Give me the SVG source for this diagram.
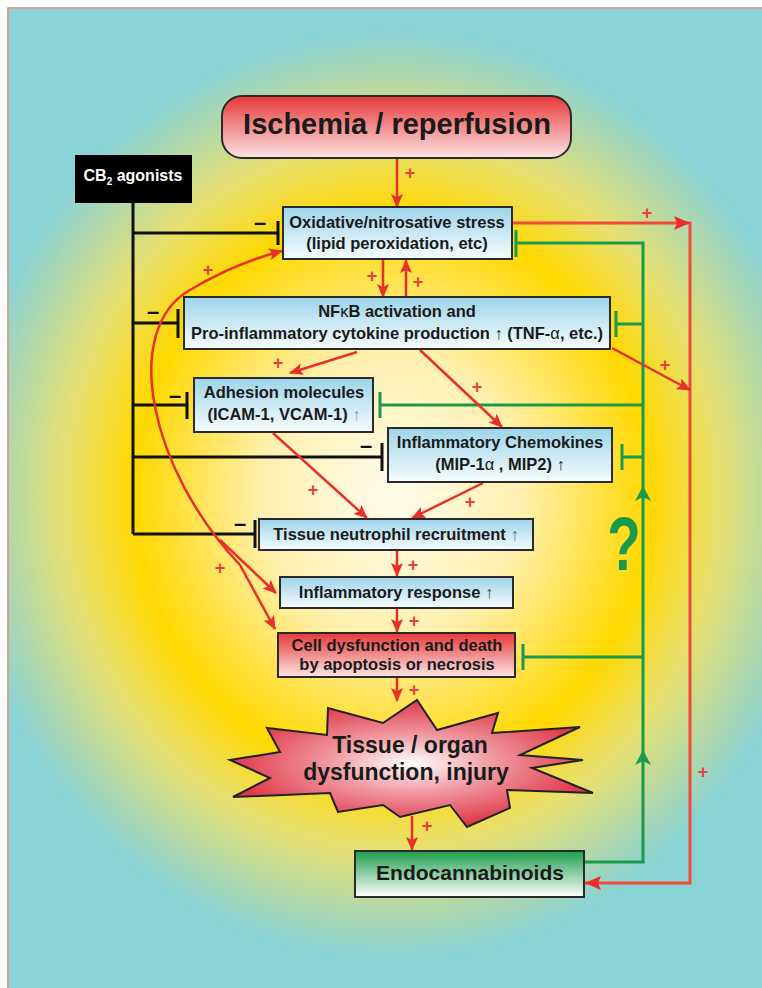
<svg xmlns="http://www.w3.org/2000/svg" width="762" height="988" viewBox="0 0 762 988">
<defs>
<radialGradient id="bg" gradientUnits="userSpaceOnUse" cx="392" cy="495" r="430" gradientTransform="translate(392 495) scale(1 1.08) translate(-392 -495)">
<stop offset="0" stop-color="#fffcee"/>
<stop offset="0.3" stop-color="#fff0b0"/>
<stop offset="0.6" stop-color="#ffd800"/>
<stop offset="0.76" stop-color="#e8e070"/>
<stop offset="0.9" stop-color="#b0d8ac"/>
<stop offset="1" stop-color="#89d2d5"/>
</radialGradient>
<linearGradient id="blue" x1="0" y1="0" x2="0" y2="1">
<stop offset="0" stop-color="#9dd4ea"/>
<stop offset="1" stop-color="#f6fcfd"/>
</linearGradient>
<linearGradient id="red" x1="0" y1="0" x2="0" y2="1">
<stop offset="0" stop-color="#e63838"/>
<stop offset="1" stop-color="#fde4e4"/>
</linearGradient>
<linearGradient id="green" x1="0" y1="0" x2="0" y2="1">
<stop offset="0" stop-color="#1e9e4c"/>
<stop offset="1" stop-color="#ffffff"/>
</linearGradient>
<radialGradient id="star" cx="0.5" cy="0.5" r="0.5">
<stop offset="0" stop-color="#ffffff"/>
<stop offset="0.45" stop-color="#f09aa2"/>
<stop offset="1" stop-color="#e03848"/>
</radialGradient>
<marker id="ar" markerUnits="userSpaceOnUse" markerWidth="14" markerHeight="12" refX="13" refY="6" orient="auto">
<path d="M0,0 L14,6 L0,12 L3,6 Z" fill="#e8302a"/>
</marker>
<style>
.box{stroke:#2a2a2a;stroke-width:2}
.t{font-family:"Liberation Sans",Arial,sans-serif;font-weight:bold;fill:#1a1a1a;text-anchor:middle}
.bx{font-size:16.5px}
.up{font-weight:normal;fill:#555}
.r{stroke:#e8302a;stroke-width:2.5;fill:none}
.rm{marker-end:url(#ar)}
.g{stroke:#1a9a4a;stroke-width:3;fill:none}
.k{stroke:#111;stroke-width:3;fill:none}
.p{font-family:"Liberation Sans",Arial,sans-serif;font-weight:bold;font-size:18px;fill:#e84040;text-anchor:middle}
.m{font-family:"Liberation Sans",Arial,sans-serif;font-weight:bold;font-size:22px;fill:#111;text-anchor:middle}
</style>
</defs>
<rect x="0" y="0" width="762" height="988" fill="#ffffff"/>
<rect x="8" y="8" width="760" height="990" fill="url(#bg)" stroke="#d8a090" stroke-width="2"/>

<g id="connectors">
<!-- black inhibitions -->
<path class="k" d="M133,203 V534"/>
<path class="k" d="M133,233 H278 M278,221 V245"/>
<path class="k" d="M133,323 H178 M178,309 V338"/>
<path class="k" d="M133,405 H187 M187,392 V419"/>
<path class="k" d="M133,457 H382 M382,443 V471"/>
<path class="k" d="M133,534 H255 M255,520 V548"/>
<text class="m" x="260" y="230">–</text>
<text class="m" x="153" y="319">–</text>
<text class="m" x="175" y="403">–</text>
<text class="m" x="366" y="453">–</text>
<text class="m" x="240" y="531">–</text>
<!-- green inhibitions -->
<path class="g" d="M584,862 H643 V243 H516 M516,230 V257"/>
<path class="g" d="M643,324 H616 M616,311 V337"/>
<path class="g" d="M643,405 H380 M380,392 V418"/>
<path class="g" d="M643,457 H622 M622,444 V470"/>
<path class="g" d="M643,657 H523 M523,644 V670"/>
<path d="M643,486 L651,501 L643,497 L635,501 Z" fill="#1a9a4a"/>
<path d="M643,750 L651,765 L643,761 L635,765 Z" fill="#1a9a4a"/>
<text transform="translate(624,570) scale(0.72,1)" font-family="Liberation Sans, Arial, sans-serif" font-weight="bold" font-size="76" fill="#1a9a4a" text-anchor="middle">?</text>
<!-- red right loop -->
<path d="M512,223 H690 V883 H585" fill="none" stroke="#ef4a3a" stroke-width="3"/>
<path d="M674,216 L690,223 L674,230 L677,223 Z" fill="#e8302a"/>
<path d="M601,876 L585,883 L601,890 L598,883 Z" fill="#e8302a"/>
<path class="r rm" d="M612,348 L690,390"/>
<text class="p" x="647" y="219">+</text>
<text class="p" x="665" y="371">+</text>
<text class="p" x="703" y="778">+</text>
<!-- red main chain -->
<path class="r rm" d="M397,158 V207"/>
<text class="p" x="410" y="179">+</text>
<path class="r rm" d="M383,259 V297"/>
<path class="r rm" d="M406,297 V260"/>
<text class="p" x="372" y="282">+</text>
<text class="p" x="418" y="288">+</text>
<path class="r rm" d="M357,352 L290,373"/>
<text class="p" x="278" y="369">+</text>
<path class="r rm" d="M420,350 L502,427"/>
<text class="p" x="477" y="393">+</text>
<path class="r rm" d="M273,433 L367,518"/>
<text class="p" x="313" y="496">+</text>
<path class="r rm" d="M483,483 L412,518"/>
<text class="p" x="470" y="508">+</text>
<path class="r rm" d="M397,550 V576"/>
<text class="p" x="413" y="571">+</text>
<path class="r rm" d="M397,608 V632"/>
<text class="p" x="414" y="627">+</text>
<path class="r rm" d="M397,677 V701"/>
<text class="p" x="414" y="696">+</text>
<path class="r rm" d="M412,816 V850"/>
<text class="p" x="427" y="832">+</text>
<!-- big curve -->
<path class="r rm" d="M240,565 C150,470 120,330 190,290 C220,272 255,258 282,251"/>
<path class="r rm" d="M220,540 L276,593"/>
<path class="r rm" d="M240,565 L275,629"/>
<text class="p" x="208" y="276">+</text>
<text class="p" x="220" y="574">+</text>
</g>

<g id="ischemia">
<rect class="box" x="222" y="96" width="349" height="62" rx="20" fill="url(#red)"/>
<text class="t" x="397" y="134" font-size="29">Ischemia / reperfusion</text>
</g>

<g id="cb2">
<rect x="75" y="155" width="117" height="48" fill="#000"/>
<text class="t" x="133" y="181" font-size="16" style="fill:#fff">CB<tspan font-size="10" dy="4">2</tspan><tspan dy="-4"> agonists</tspan></text>
</g>

<g id="oxidative">
<rect class="box" x="283" y="207" width="229" height="52" fill="url(#blue)"/>
<text class="t bx" x="397" y="228">Oxidative/nitrosative stress</text>
<text class="t bx" x="397" y="249">(lipid peroxidation, etc)</text>
</g>

<g id="nfkb">
<rect class="box" x="184" y="297" width="426" height="52" fill="url(#blue)"/>
<text class="t bx" x="397" y="317">NF<tspan font-weight="normal">κ</tspan>B activation and</text>
<text class="t bx" x="397" y="339">Pro-inflammatory cytokine production <tspan class="up" style="fill:#222">↑</tspan> (TNF-<tspan font-weight="normal">α</tspan>, etc.)</text>
</g>

<g id="adhesion">
<rect class="box" x="194" y="378" width="179" height="54" fill="url(#blue)"/>
<text class="t bx" x="284" y="398">Adhesion molecules</text>
<text class="t bx" x="284" y="420">(ICAM-1, VCAM-1) <tspan class="up" style="fill:#8a9aa8">↑</tspan></text>
</g>

<g id="chemokines">
<rect class="box" x="388" y="428" width="224" height="54" fill="url(#blue)"/>
<text class="t bx" x="500" y="448">Inflammatory Chemokines</text>
<text class="t bx" x="500" y="470">(MIP-1<tspan font-weight="normal">α</tspan> , MIP2) <tspan class="up" style="fill:#222">↑</tspan></text>
</g>

<g id="neutrophil">
<rect class="box" x="259" y="519" width="274" height="31" fill="url(#blue)"/>
<text class="t bx" x="396" y="540">Tissue neutrophil recruitment <tspan class="up" style="fill:#667">↑</tspan></text>
</g>

<g id="inflammatory">
<rect class="box" x="280" y="577" width="233" height="31" fill="url(#blue)"/>
<text class="t bx" x="396" y="598">Inflammatory response <tspan class="up" style="fill:#444">↑</tspan></text>
</g>

<g id="cell">
<rect class="box" x="278" y="633" width="237" height="44" fill="url(#red)"/>
<text class="t bx" x="397" y="651">Cell dysfunction and death</text>
<text class="t bx" x="397" y="670">by apoptosis or necrosis</text>
</g>

<g id="tissue">
<polygon points="230,760 280,752 267,728 327,735 328,708 383,723 417,700 437,730 498,713 492,733 580,727 520,755 583,760 532,768 593,793 507,790 510,808 467,827 450,805 400,817 383,805 338,812 330,793 233,797 270,778" fill="url(#star)" stroke="#222" stroke-width="2" stroke-linejoin="miter"/>
<text class="t" x="410" y="753" font-size="23">Tissue / organ</text>
<text class="t" x="406" y="780" font-size="23">dysfunction, injury</text>
</g>

<g id="endocannabinoids">
<rect class="box" x="355" y="851" width="229" height="46" fill="url(#green)"/>
<text class="t" x="470" y="880" font-size="21">Endocannabinoids</text>
</g>
</svg>
